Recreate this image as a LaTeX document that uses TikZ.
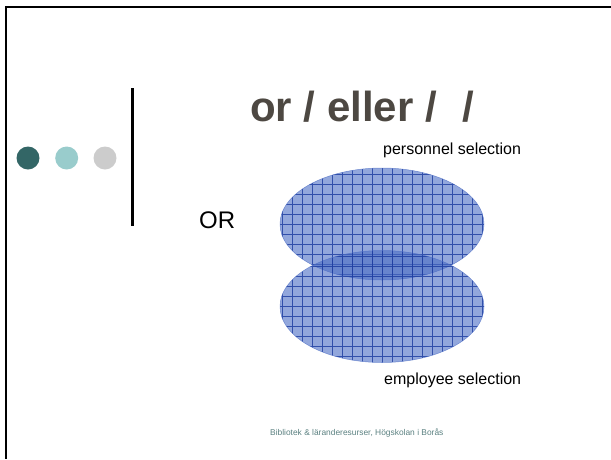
\documentclass[tikz,border=0pt]{standalone}
\usepackage{fontspec}
\setmainfont{Liberation Sans}
\usetikzlibrary{shapes.geometric,patterns}
\definecolor{titlegray}{HTML}{4D4842}
\definecolor{dotdark}{HTML}{336666}
\definecolor{dotmid}{HTML}{99CCCC}
\definecolor{dotlight}{HTML}{CCCCCC}
\definecolor{setblue}{HTML}{4A6CC4}
\definecolor{gridblue}{HTML}{1A3A9E}
\definecolor{footteal}{HTML}{5A8080}
\tikzset{
  frameline/.style={line width=2.5pt, black},
  dotnode/.style={circle, minimum size=23pt, inner sep=0pt},
  setellipse/.style={ellipse, minimum width=204pt, minimum height=112pt, inner sep=0pt,
    fill=setblue, fill opacity=0.6, draw=setblue, draw opacity=0.7, line width=0.5pt,
    path picture={\draw[gridblue, line width=0.7pt, opacity=0.8, xshift=2.3pt, yshift=-1.7pt]
      ([xshift=-20pt,yshift=-20pt]path picture bounding box.south west) grid[step=10pt] ([xshift=20pt,yshift=20pt]path picture bounding box.north east);}},
  labeltext/.style={anchor=base west, inner sep=0pt, font=\fontsize{16}{18}\selectfont}
}
\begin{document}
\begin{tikzpicture}[x=1pt, y=-1pt]
\useasboundingbox (0,0) rectangle (611,459);
% frame
\coordinate (ftl) at (6,7);
\coordinate (ftr) at (611,7);
\coordinate (fbl) at (6,459);
\draw[frameline] (ftr) -- (ftl) -- (fbl);
\coordinate (vtop) at (132,88);
\coordinate (vbot) at (132,226);
\draw[line width=3pt] (vtop) -- (vbot);
% dots
\node[dotnode, fill=dotdark] (d1) at (28,158) {};
\node[dotnode, fill=dotmid] (d2) at (66.7,158) {};
\node[dotnode, fill=dotlight] (d3) at (105,158) {};
% title
\node[anchor=base west, inner sep=0pt, text=titlegray, font=\bfseries\fontsize{42}{44}\selectfont] (title) at (250,121) {or / eller /\hspace{26pt}/};
% sets
\node[setellipse] (top) at (382,224) {};
\node[setellipse] (bot) at (382,306.5) {};
% labels
\node[labeltext] (lp) at (383,154) {personnel selection};
\node[labeltext] (le) at (384,384) {employee selection};
\node[anchor=base west, inner sep=0pt, font=\fontsize{24}{26}\selectfont] (or) at (199,228) {OR};
% footer
\node[anchor=base west, inner sep=0pt, text=footteal, font=\fontsize{8.4}{10}\selectfont] (foot) at (270,435) {Bibliotek \& läranderesurser, Högskolan i Borås};
\end{tikzpicture}
\end{document}
